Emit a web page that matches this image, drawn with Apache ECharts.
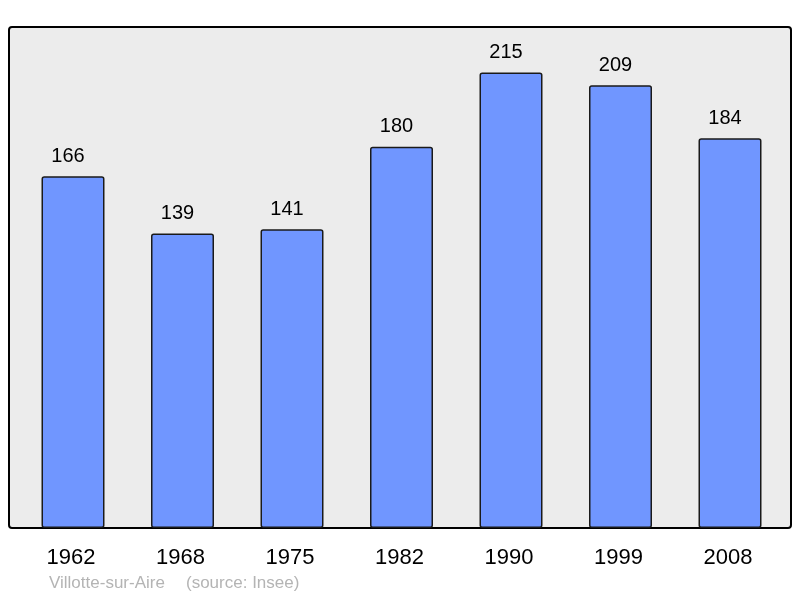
<!DOCTYPE html>
<html><head><meta charset="utf-8">
<script src="https://cdn.jsdelivr.net/npm/echarts@6/dist/echarts.min.js"></script>
<style>html,body{margin:0;padding:0;background:#fff}#c{width:800px;height:598px}</style>
</head><body><div id="c"></div>
<script>
const categories = ['1962','1968','1975','1982','1990','1999','2008'];
const population = [166,139,141,180,215,209,184];
const placeName = 'Villotte-sur-Aire';
const sourceText = '(source: Insee)';

const chart = echarts.init(document.getElementById('c'));
const maxV = Math.max(...population) * 1.1;
chart.setOption({
  animation:false,
  backgroundColor:'#ffffff',
  textStyle:{fontFamily:'Liberation Sans, Arial, sans-serif'},
  graphic:[
    {type:'rect', shape:{x:9,y:27,width:782,height:501,r:3}, style:{fill:'#ececec',stroke:'#000',lineWidth:2}, z:-10},
    {type:'text', left:49, top:575, style:{text:placeName, fill:'#b4b4b4', font:'17px "Liberation Sans", Arial, sans-serif'}},
    {type:'text', left:186, top:575, style:{text:sourceText, fill:'#b4b4b4', font:'17px "Liberation Sans", Arial, sans-serif'}}
  ],
  grid:{left:18.25, right:15.25, top:27, bottom:70},
  xAxis:{type:'category', data:categories,
    axisLine:{show:false}, axisTick:{show:false},
    axisLabel:{fontSize:22, color:'#000', margin:19, padding:[0,4,0,0]}},
  yAxis:{type:'value', min:0, max:maxV, show:false, splitLine:{show:false}},
  series:[{type:'bar', data:population, barWidth:63,
    itemStyle:{color:'#7096ff', borderColor:'#1a1a1a', borderWidth:1.5, borderRadius:2},
    label:{show:true, position:'top', distance:10, offset:[-5,0], fontSize:20, color:'#000'}}]
});
</script></body></html>
